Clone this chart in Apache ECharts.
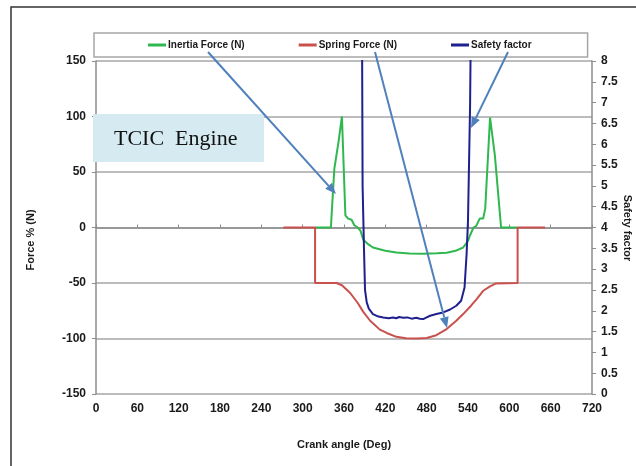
<!DOCTYPE html>
<html>
<head>
<meta charset="utf-8">
<script src="https://cdn.jsdelivr.net/npm/echarts@6/dist/echarts.min.js"></script>
<style>
  html, body { margin: 0; padding: 0; background: #fff; }
  #chart { width: 636px; height: 466px; }
</style>
</head>
<body>
<div id="chart"></div>
<script>
// --------------------------------------------------------------
// Data
// --------------------------------------------------------------

const seriesNames = ["Inertia Force (N)", "Spring Force (N)", "Safety factor"];

// [crank angle (deg), inertia force (%)]
const inertiaForce = [
    [318, 0], [341, 0], [342, 11], [346, 53], [349, 65], [352, 77], [357, 100],
    [362, 11], [366, 8], [371, 7], [375, 2], [380, 0], [384, -3], [388, -11],
    [395, -15], [402, -18], [420, -21], [436, -22.5], [455, -23.5], [475, -23.7],
    [495, -23.3], [509, -22.8], [522, -21], [533, -18], [540, -12], [543, -7],
    [548, 0], [552, 1.5], [557, 8], [562, 8], [565, 17], [572, 99], [579, 65],
    [588, 0], [612, 0]
];

// [crank angle (deg), spring force (%)]
const springForce = [
    [272, 0], [318, 0], [318, -50], [349, -50], [357, -52], [369, -59], [380, -68],
    [388, -76], [398, -84], [412, -92], [422, -95], [436, -98.5], [450, -99.8],
    [466, -100], [480, -99.5], [494, -97], [509, -91.5], [523, -84], [533, -78],
    [545, -70], [552, -65], [562, -57], [572, -53], [580, -50.5], [612, -50],
    [612, 0], [652, 0]
];

// [crank angle (deg), safety factor]
const safetyFactor = [
    [385.5, 12], [387, 5], [389, 3.5], [390.5, 2.5], [393, 2.2], [396, 2.05],
    [402, 1.92], [410, 1.86], [417, 1.84], [425, 1.82], [431, 1.84], [436, 1.82],
    [440, 1.85], [446, 1.83], [452, 1.84], [458, 1.81], [465, 1.83], [470, 1.81],
    [475, 1.80], [480, 1.84], [485, 1.88], [494, 1.92], [504, 1.96], [514, 2.03],
    [523, 2.12], [530, 2.24], [535, 2.56], [538, 3.37], [540, 4.17], [543, 6.9],
    [546, 12]
];

const angleRange = [0, 720, 60];
const forceRange = [-150, 150, 50];
const safetyRange = [0, 8, 0.5];

const COLORS = ["#2fb84f", "#c9514d", "#1f1f8e"];
const GRID_GREY = "#a6a6a6";
const AXIS_GREY = "#8c8c8c";
const ARROW_BLUE = "#4f81bd";
const LABEL_FONT = { fontFamily: "Liberation Sans", fontWeight: "bold", fontSize: 12, color: "#1a1a1a" };
const TITLE_FONT = { fontFamily: "Liberation Sans", fontWeight: "bold", fontSize: 11, color: "#1a1a1a" };

// --------------------------------------------------------------
// Annotation helpers
// --------------------------------------------------------------

function arrow(x1, y1, x2, y2) {
    const ang = Math.atan2(y2 - y1, x2 - x1);
    const len = 11, half = 4.5;
    const bx = x2 - len * Math.cos(ang), by = y2 - len * Math.sin(ang);
    const px = -Math.sin(ang) * half, py = Math.cos(ang) * half;
    return [
        { type: "line", z: 100, shape: { x1: x1, y1: y1, x2: bx, y2: by },
          style: { stroke: ARROW_BLUE, lineWidth: 2 } },
        { type: "polygon", z: 100,
          shape: { points: [[x2, y2], [bx + px, by + py], [bx - px, by - py]] },
          style: { fill: ARROW_BLUE } }
    ];
}

function lineSeries(name, data, color, yAxisIndex) {
    return {
        name: name,
        type: "line",
        data: data,
        yAxisIndex: yAxisIndex,
        symbol: "none",
        clip: true,
        lineStyle: { color: color, width: 2 },
        itemStyle: { color: color }
    };
}

// --------------------------------------------------------------
// Chart
// --------------------------------------------------------------

const chart = echarts.init(document.getElementById("chart"));

chart.setOption({
    animation: false,
    backgroundColor: "#ffffff",
    grid: { left: 96, right: 44, top: 61, bottom: 72 },
    legend: {
        data: seriesNames,
        left: 94,
        top: 33,
        padding: [7, 56, 7, 54],
        itemGap: 54,
        itemWidth: 18,
        itemHeight: 3,
        icon: "rect",
        borderColor: GRID_GREY,
        borderWidth: 1.5,
        textStyle: { fontFamily: "Liberation Sans", fontWeight: "bold", fontSize: 10, color: "#1a1a1a", padding: [0, 0, 0, -3] }
    },
    xAxis: {
        type: "value",
        min: angleRange[0], max: angleRange[1], interval: angleRange[2],
        name: "Crank angle (Deg)",
        nameLocation: "middle",
        nameGap: 45,
        nameTextStyle: TITLE_FONT,
        axisLine: { lineStyle: { color: AXIS_GREY, width: 1.5 } },
        axisTick: { inside: true, length: 3, lineStyle: { color: AXIS_GREY } },
        axisLabel: Object.assign({ margin: 9 }, LABEL_FONT),
        splitLine: { show: false }
    },
    yAxis: [
        {
            type: "value",
            min: forceRange[0], max: forceRange[1], interval: forceRange[2],
            axisLine: { show: true, lineStyle: { color: AXIS_GREY, width: 1.5 } },
            axisTick: { show: true, length: 4, lineStyle: { color: AXIS_GREY } },
            axisLabel: Object.assign({ margin: 10 }, LABEL_FONT),
            splitLine: { lineStyle: { color: GRID_GREY, width: 1.5 } }
        },
        {
            type: "value",
            position: "right",
            min: safetyRange[0], max: safetyRange[1], interval: safetyRange[2],
            axisLine: { show: true, lineStyle: { color: AXIS_GREY, width: 1.5 } },
            axisTick: { show: true, length: 4, lineStyle: { color: AXIS_GREY } },
            axisLabel: Object.assign({ margin: 9 }, LABEL_FONT),
            splitLine: { show: false }
        }
    ],
    series: [
        lineSeries(seriesNames[0], inertiaForce, COLORS[0], 0),
        lineSeries(seriesNames[1], springForce, COLORS[1], 0),
        lineSeries(seriesNames[2], safetyFactor, COLORS[2], 1)
    ],
    graphic: [
        { type: "polyline", z: 100, shape: { points: [[11, 466], [11, 7], [636, 7]] },
          style: { stroke: "#333333", lineWidth: 1.5, fill: null } },
        { type: "rect", z: 100, shape: { x: 93, y: 114, width: 171, height: 48 },
          style: { fill: "#d5eaf1" } },
        { type: "text", z: 101, x: 114, y: 139,
          style: { text: "TCIC  Engine", font: "22px 'Liberation Serif'", fill: "#111",
                   textAlign: "left", textVerticalAlign: "middle" } },
        { type: "text", z: 100, x: 31, y: 240, rotation: Math.PI / 2,
          style: { text: "Force % (N)", font: "bold 11px 'Liberation Sans'", fill: "#1a1a1a",
                   textAlign: "center", textVerticalAlign: "middle" } },
        { type: "text", z: 100, x: 627, y: 228, rotation: -Math.PI / 2,
          style: { text: "Safety factor", font: "bold 11px 'Liberation Sans'", fill: "#1a1a1a",
                   textAlign: "center", textVerticalAlign: "middle" } }
    ]
        .concat(arrow(208, 52, 336, 194))
        .concat(arrow(375, 52, 447, 328))
        .concat(arrow(508, 52, 471, 128))
});
</script>
</body>
</html>
